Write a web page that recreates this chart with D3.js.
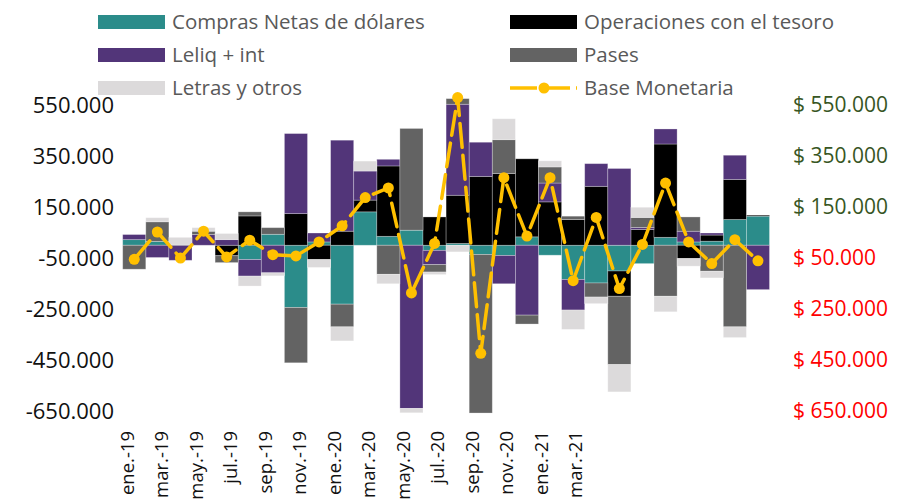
<!DOCTYPE html>
<html>
<head>
<meta charset="utf-8">
<script src="https://cdn.jsdelivr.net/npm/d3@7"></script>
<style>
  body { margin: 0; background: #fff; }
  svg text { font-family: "Open Sans", sans-serif; }
</style>
</head>
<body>
<div id="chart"></div>
<script>
// Meses: una barra por mes
const meses = ["ene.-19","feb.-19","mar.-19","abr.-19","may.-19","jun.-19","jul.-19","ago.-19",
  "sep.-19","oct.-19","nov.-19","dic.-19","ene.-20","feb.-20","mar.-20","abr.-20","may.-20",
  "jun.-20","jul.-20","ago.-20","sep.-20","oct.-20","nov.-20","dic.-20","ene.-21","feb.-21",
  "mar.-21","abr.-21"];

// Etiquetas del eje X (como aparecen en el grafico)
const etiquetasX = ["ene.-19","mar.-19","may.-19","jul.-19","sep.-19","nov.-19","ene.-20",
  "mar.-20","may.-20","jul.-20","sep.-20","nov.-20","ene.-21","mar.-21"];

// Series (millones de $)
const comprasNetas = [22000,15000,0,0,0,-56000,43000,-244000,13000,-231000,131000,35000,59000,
  -20000,7000,-36000,-40000,33000,-39000,-134000,-148000,-101000,-72000,31000,13000,16000,101000,114000];
const operacionesTesoro = [0,0,0,0,-41000,115000,0,124000,-56000,55000,46000,276000,0,
  111000,189000,270000,281000,306000,170000,101000,231000,-99000,62000,366000,-52000,24000,157000,4000];
const leliqInt = [20000,-48000,-59000,42000,22000,-65000,-108000,314000,35000,357000,114000,26000,-640000,
  -56000,357000,134000,-111000,-274000,74000,-120000,89000,301000,8000,59000,42000,8000,95000,-174000];
const pases = [-94000,77000,3000,13000,-27000,16000,26000,-217000,0,-89000,0,-114000,399000,
  -29000,22000,-622000,133000,-35000,63000,13000,-55000,-268000,39000,-200000,56000,-102000,-320000,0];
const letrasOtros = [0,16000,28000,14000,24000,-39000,-12000,0,-31000,-55000,39000,-37000,-17000,
  -10000,-26000,0,82000,0,24000,-76000,-26000,-107000,40000,-61000,-30000,-26000,-42000,0];
const baseMonetaria = [-55000,52000,-50000,55000,-46000,20000,-37000,-42000,13000,76000,187000,225000,-187000,
  7000,579000,-424000,265000,36000,265000,-139000,109000,-170000,3000,244000,13000,-72000,22000,-61000];

const ticksY = [-650000,-450000,-250000,-50000,150000,350000,550000];

const series = [
  { key: "compras", nombre: "Compras Netas de dólares", color: "#2B8C8A", valores: comprasNetas },
  { key: "tesoro", nombre: "Operaciones con el tesoro", color: "#000000", valores: operacionesTesoro },
  { key: "leliq", nombre: "Leliq + int", color: "#523579", valores: leliqInt },
  { key: "pases", nombre: "Pases", color: "#636363", valores: pases },
  { key: "letras", nombre: "Letras y otros", color: "#DCDADB", valores: letrasOtros }
];
const colorLinea = "#FFC000";

const locale = d3.formatLocale({ decimal: ",", thousands: ".", grouping: [3], minus: "-" });
const fmt = locale.format(",.0f");

function drawChart() {
  const width = 903, height = 503;
  const svg = d3.select("#chart").append("svg")
      .attr("width", width)
      .attr("height", height);

  // tabla para el stack
  const tabla = meses.map((m, i) => {
    const fila = { mes: m };
    series.forEach(s => { fila[s.key] = s.valores[i]; });
    return fila;
  });

  const x = d3.scaleBand().domain(meses).range([122.7, 769.5]).padding(0);
  const y = d3.scaleLinear().domain([-650000, 550000]).range([411, 105]);
  const xEtiquetas = d3.scalePoint().domain(etiquetasX).range([127, 575]);

  const stack = d3.stack()
      .keys(series.map(s => s.key))
      .offset(d3.stackOffsetDiverging);
  const capas = stack(tabla);

  // barras apiladas
  svg.append("g").selectAll("g")
    .data(capas)
    .enter().append("g")
      .attr("fill", (d, i) => series[i].color)
    .selectAll("rect")
    .data(d => d)
    .enter().append("rect")
      .attr("x", d => x(d.data.mes))
      .attr("y", d => y(d[1]))
      .attr("width", x.bandwidth())
      .attr("height", d => Math.abs(y(d[0]) - y(d[1])))
      .attr("stroke", "#ffffff")
      .attr("stroke-opacity", 0.35)
      .attr("stroke-width", 0.8);

  // linea Base Monetaria
  const linea = d3.line()
      .x((d, i) => x(meses[i]) + x.bandwidth() / 2)
      .y(d => y(d));
  svg.append("path")
      .datum(baseMonetaria)
      .attr("d", linea)
      .attr("fill", "none")
      .attr("stroke", colorLinea)
      .attr("stroke-width", 3.5)
      .attr("stroke-dasharray", "24,8")
      .attr("stroke-linecap", "round");
  svg.append("g").selectAll("circle")
    .data(baseMonetaria)
    .enter().append("circle")
      .attr("cx", (d, i) => x(meses[i]) + x.bandwidth() / 2)
      .attr("cy", d => y(d))
      .attr("r", 5.5)
      .attr("fill", colorLinea);

  // eje izquierdo
  const ejeIzq = svg.append("g")
      .attr("transform", "translate(118,0)")
      .call(d3.axisLeft(y).tickValues(ticksY).tickSize(0).tickPadding(4).tickFormat(fmt));
  ejeIzq.select(".domain").remove();
  ejeIzq.selectAll("text")
      .attr("font-size", 22)
      .attr("fill", "#111");

  // eje derecho
  const ejeDer = svg.append("g")
      .attr("transform", "translate(785,0)")
      .call(d3.axisRight(y).tickValues(ticksY).tickSize(0).tickPadding(8)
        .tickFormat(v => "$ " + fmt(Math.abs(v))));
  ejeDer.select(".domain").remove();
  ejeDer.selectAll("text")
      .attr("font-size", 21)
      .attr("fill", d => d < 0 ? "#FF0000" : "#375623");

  // eje X
  const ejeX = svg.append("g")
      .attr("transform", "translate(0,425)")
      .call(d3.axisBottom(xEtiquetas).tickSize(0));
  ejeX.select(".domain").remove();
  ejeX.selectAll("text")
      .attr("transform", "rotate(-90)")
      .attr("x", -6)
      .attr("y", 0)
      .attr("dy", "0.35em")
      .attr("text-anchor", "end")
      .attr("font-size", 18.5)
      .attr("fill", "#111");

  // leyenda
  const itemsLeyenda = series.map(s => ({ nombre: s.nombre, color: s.color, tipo: "barra" }));
  itemsLeyenda.push({ nombre: "Base Monetaria", color: colorLinea, tipo: "linea" });
  const leyenda = svg.append("g").selectAll("g")
    .data(itemsLeyenda)
    .enter().append("g")
      .attr("transform", (d, i) => `translate(${98 + (i % 2) * 412},${22 + Math.floor(i / 2) * 33})`);
  leyenda.filter(d => d.tipo === "barra").append("rect")
      .attr("x", 0).attr("y", -7)
      .attr("width", 67).attr("height", 14)
      .attr("fill", d => d.color);
  const ley = leyenda.filter(d => d.tipo === "linea");
  ley.append("line")
      .attr("x1", 0).attr("x2", 67).attr("y1", 0).attr("y2", 0)
      .attr("stroke", colorLinea).attr("stroke-width", 3.5)
      .attr("stroke-dasharray", "27,6");
  ley.append("circle")
      .attr("cx", 34).attr("cy", 0).attr("r", 5.5)
      .attr("fill", colorLinea);
  leyenda.append("text")
      .attr("x", 74)
      .attr("dy", "0.35em")
      .attr("font-size", 20.5)
      .attr("fill", "#595959")
      .text(d => d.nombre);
}

drawChart();
</script>
</body>
</html>
